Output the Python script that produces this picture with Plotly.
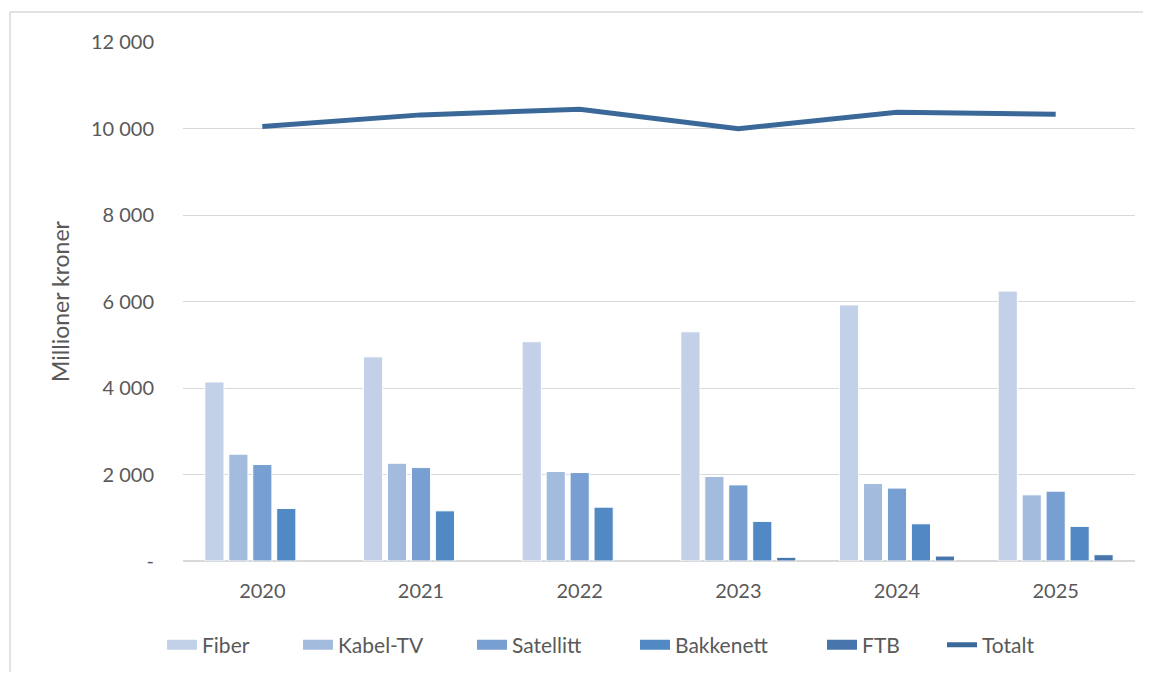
import plotly.graph_objects as go

years = ["2020", "2021", "2022", "2023", "2024", "2025"]
fiber = [4140, 4720, 5070, 5300, 5920, 6240]
kabel_tv = [2470, 2260, 2070, 1955, 1790, 1530]
satellitt = [2230, 2160, 2045, 1760, 1685, 1615]
bakkenett = [1215, 1160, 1245, 915, 860, 800]
ftb = [None, None, None, 85, 115, 145]
totalt = [10045, 10315, 10445, 9995, 10375, 10330]

tick_vals = [0, 2000, 4000, 6000, 8000, 10000, 12000]
tick_text = ["-", "2 000", "4 000", "6 000", "8 000", "10 000", "12 000"]

bar_series = [
    ("Fiber", fiber, "#C2D1E7"),
    ("Kabel-TV", kabel_tv, "#A3BBDD"),
    ("Satellitt", satellitt, "#789FD1"),
    ("Bakkenett", bakkenett, "#5089C3"),
    ("FTB", ftb, "#4676AC"),
]
line_color = "#3A6898"

# pixel x where each legend label text starts
legend_text_px = [202, 338, 512, 675, 862, 982]

font_family = "Lato, 'Open Sans', sans-serif"
text_color = "#595959"

PLOT_L, PLOT_W = 183, 952

fig = go.Figure()
for name, vals, color in bar_series:
    fig.add_trace(go.Bar(
        x=years, y=vals, name=name, showlegend=False,
        marker=dict(color=color, line=dict(color="white", width=1)),
    ))

fig.add_trace(go.Scatter(
    x=years, y=totalt, name="Totalt", mode="lines", showlegend=False,
    line=dict(color=line_color, width=5),
))

legend_keys = ["legend", "legend2", "legend3", "legend4", "legend5", "legend6"]
legend_entries = [(n, c, 13) for n, _, c in bar_series] + [("Totalt", line_color, 5)]
legend_layouts = {}
for key, (name, color, w), tx in zip(legend_keys, legend_entries, legend_text_px):
    fig.add_trace(go.Scatter(
        x=[None], y=[None], name=name, mode="lines", legend=key,
        line=dict(color=color, width=w),
    ))
    legend_layouts[key] = dict(
        orientation="h", x=(tx - 40 - PLOT_L) / PLOT_W, xanchor="left",
        y=-0.16, yanchor="middle", bgcolor="rgba(0,0,0,0)",
        font=dict(size=21, color=text_color),
    )

fig.update_layout(
    width=1135, height=664,
    margin=dict(l=175, r=8, t=34, b=110),
    paper_bgcolor="white", plot_bgcolor="white",
    barmode="group", bargap=0.245, bargroupgap=0.2,
    font=dict(family=font_family, size=20, color=text_color),
    showlegend=True,
    xaxis=dict(showgrid=False, showline=False, zeroline=False,
               ticks="", ticklabelstandoff=16,
               tickfont=dict(size=20, color=text_color)),
    yaxis=dict(range=[0, 12000], tickvals=tick_vals, ticktext=tick_text,
               showgrid=True, gridcolor="#D9D9D9", gridwidth=1.3,
               zeroline=True, zerolinecolor="#D9D9D9", zerolinewidth=1.5,
               showline=False, ticks="", ticklabelstandoff=28,
               tickfont=dict(size=20, color=text_color),
               title=dict(text="Millioner kroner", standoff=14,
                          font=dict(size=23, color=text_color))),
    shapes=[
        dict(type="line", xref="paper", yref="paper", x0=-0.1817, x1=1.1, y0=1.0577, y1=1.0577,
             line=dict(color="#D9D9D9", width=1.5)),
        dict(type="line", xref="paper", yref="paper", x0=-0.1817, x1=-0.1817, y0=1.0577, y1=-0.3,
             line=dict(color="#D9D9D9", width=1.5)),
    ],
    **legend_layouts,
)

fig.write_html("out.html")
